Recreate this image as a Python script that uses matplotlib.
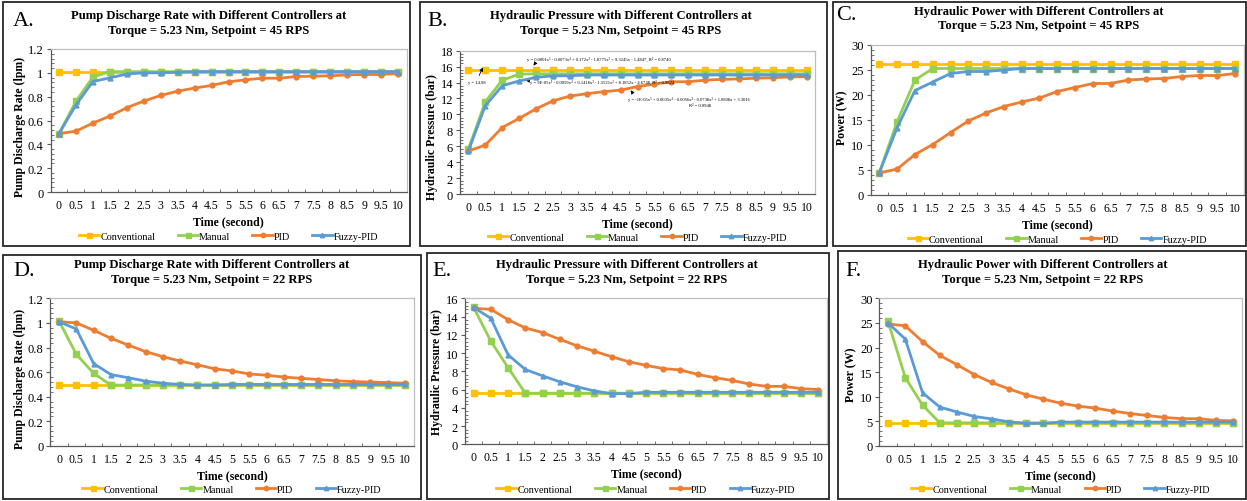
import matplotlib
matplotlib.use('Agg')
import matplotlib.pyplot as plt
from matplotlib.patches import Rectangle
from matplotlib.ticker import AutoMinorLocator, MultipleLocator, FixedLocator
import numpy as np

plt.rcParams['font.family'] = ['Liberation Serif', 'DejaVu Serif']

# time categories (seconds)
time_labels = ['0', '0.5', '1', '1.5', '2', '2.5', '3', '3.5', '4', '4.5', '5',
               '5.5', '6', '6.5', '7', '7.5', '8', '8.5', '9', '9.5', '10']
series_names = ['Conventional', 'Manual', 'PID', 'Fuzzy-PID']

# A. discharge rate, setpoint 45 RPS
a_conv = [1.01] * 21
a_manual = [0.49, 0.76, 0.965, 1.01, 1.01, 1.01, 1.01, 1.01, 1.01, 1.01, 1.01,
            1.01, 1.01, 1.01, 1.01, 1.01, 1.01, 1.01, 1.01, 1.01, 1.01]
a_pid = [0.49, 0.51, 0.578, 0.637, 0.707, 0.763, 0.81, 0.846, 0.872, 0.894, 0.925,
         0.941, 0.955, 0.955, 0.969, 0.972, 0.975, 0.983, 0.986, 0.986, 0.994]
a_fuzzy = [0.49, 0.73, 0.927, 0.958, 0.99, 1.0, 1.0, 1.005, 1.01, 1.01, 1.01,
           1.01, 1.01, 1.01, 1.01, 1.01, 1.01, 1.01, 1.01, 1.01, 1.01]

# B. hydraulic pressure, setpoint 45 RPS
b_conv = [15.6] * 21
b_manual = [5.65, 11.6, 14.3, 15.05, 15.1, 15.1, 15.1, 15.1, 15.1, 15.1, 15.1,
            15.1, 15.1, 15.1, 15.1, 15.1, 15.1, 15.1, 15.1, 15.1, 15.1]
b_pid = [5.4, 6.15, 8.35, 9.5, 10.7, 11.7, 12.3, 12.6, 12.85, 13.05, 13.5,
         13.8, 14.1, 14.1, 14.3, 14.4, 14.45, 14.55, 14.6, 14.7, 14.75]
b_fuzzy = [5.45, 11.1, 13.6, 14.2, 14.65, 14.85, 14.85, 14.95, 14.95, 14.95, 14.95,
           14.95, 14.95, 14.95, 14.95, 14.95, 14.95, 14.95, 14.95, 14.95, 14.95]

# C. hydraulic power, setpoint 45 RPS
c_conv = [26.2] * 21
c_manual = [4.5, 14.7, 23.0, 25.3, 25.3, 25.3, 25.3, 25.3, 25.3, 25.3, 25.3,
            25.3, 25.3, 25.3, 25.3, 25.3, 25.3, 25.3, 25.3, 25.3, 25.3]
c_pid = [4.4, 5.2, 8.1, 10.1, 12.5, 14.8, 16.4, 17.7, 18.6, 19.4, 20.7,
         21.5, 22.3, 22.3, 23.0, 23.2, 23.3, 23.7, 23.9, 23.9, 24.3]
c_fuzzy = [4.5, 13.5, 20.9, 22.6, 24.3, 24.7, 24.7, 25.0, 25.3, 25.3, 25.3,
           25.3, 25.3, 25.3, 25.3, 25.3, 25.3, 25.3, 25.3, 25.3, 25.3]

# D. discharge rate, setpoint 22 RPS
d_conv = [0.495] * 21
d_manual = [1.015, 0.745, 0.59, 0.495, 0.495, 0.495, 0.495, 0.495, 0.495, 0.495, 0.495,
            0.495, 0.495, 0.495, 0.495, 0.495, 0.495, 0.495, 0.495, 0.495, 0.495]
d_pid = [1.01, 1.0, 0.94, 0.875, 0.82, 0.767, 0.726, 0.69, 0.66, 0.627, 0.61,
         0.585, 0.575, 0.56, 0.55, 0.54, 0.53, 0.523, 0.52, 0.515, 0.51]
d_fuzzy = [1.01, 0.95, 0.67, 0.58, 0.555, 0.527, 0.51, 0.5, 0.495, 0.495, 0.5,
           0.5, 0.5, 0.5, 0.5, 0.5, 0.5, 0.5, 0.5, 0.5, 0.5]

# E. hydraulic pressure, setpoint 22 RPS
e_conv = [5.6] * 21
e_manual = [15.0, 11.3, 8.4, 5.6, 5.6, 5.6, 5.6, 5.6, 5.6, 5.6, 5.6,
            5.6, 5.6, 5.6, 5.6, 5.6, 5.6, 5.6, 5.6, 5.6, 5.6]
e_pid = [14.9, 14.8, 13.65, 12.75, 12.25, 11.5, 10.8, 10.2, 9.6, 9.05, 8.65,
         8.3, 8.15, 7.65, 7.3, 7.0, 6.6, 6.35, 6.35, 6.1, 6.0]
e_fuzzy = [15.0, 13.8, 9.8, 8.2, 7.5, 6.85, 6.3, 5.85, 5.55, 5.55, 5.7,
           5.7, 5.7, 5.7, 5.7, 5.7, 5.7, 5.7, 5.7, 5.7, 5.7]

# F. hydraulic power, setpoint 22 RPS
f_conv = [4.7] * 21
f_manual = [25.3, 13.9, 8.3, 4.7, 4.7, 4.7, 4.7, 4.7, 4.7, 4.7, 4.7,
            4.7, 4.7, 4.7, 4.7, 4.7, 4.7, 4.7, 4.7, 4.7, 4.7]
f_pid = [24.8, 24.4, 21.2, 18.4, 16.5, 14.5, 12.9, 11.6, 10.4, 9.5, 8.7,
         8.1, 7.7, 7.1, 6.6, 6.2, 5.8, 5.55, 5.55, 5.2, 5.1]
f_fuzzy = [25.0, 21.7, 10.8, 7.9, 6.9, 6.0, 5.5, 4.9, 4.6, 4.6, 4.85,
           4.85, 4.85, 4.85, 4.85, 4.85, 4.85, 4.85, 4.85, 4.85, 4.85]

colors = ['#FFC000', '#92D050', '#ED7D31', '#5B9BD5']
markers = ['s', 's', 'o', '^']

W, H = 1247, 502
fig = plt.figure(figsize=(W / 100, H / 100), dpi=100)


def px_axes(l, r, t, b):
    return fig.add_axes([l / W, 1 - b / H, (r - l) / W, (b - t) / H])


def ftext(x, y, s, **kw):
    fig.text(x / W, 1 - y / H, s, **kw)


panels = [
    # letter, title1, setpoint, ylabel, data, ymax, ystep, axes px, title px, letter px, ylabel px, legend y, box
    ('A.', 'Pump Discharge Rate with Different Controllers at', '45', 'Pump Discharge Rate (lpm)',
     [a_conv, a_manual, a_pid, a_fuzzy], 1.2, 0.2, (50.5, 406.5, 50, 193), (209, 16.5, 31.5), (13, 22),
     (20, 127), 237, (3, 410, 3, 247)),
    ('B.', 'Hydraulic Pressure with Different Controllers at', '45', 'Hydraulic Pressure (bar)',
     [b_conv, b_manual, b_pid, b_fuzzy], 18, 2, (460, 815, 51.7, 195), (621, 16.5, 31.5), (427, 22),
     (432, 137), 238, (420, 827, 3, 247)),
    ('C.', 'Hydraulic Power with Different Controllers at', '45', 'Power (W)',
     [c_conv, c_manual, c_pid, c_fuzzy], 30, 5, (870.5, 1244, 46, 196), (1039, 11.5, 26.5), (836, 16),
     (842, 118), 240, (833, 1246, 3, 247)),
    ('D.', 'Pump Discharge Rate with Different Controllers at', '22', 'Pump Discharge Rate (lpm)',
     [d_conv, d_manual, d_pid, d_fuzzy], 1.2, 0.2, (50.4, 413.6, 299.3, 447), (212, 265.3, 280.3), (13, 272),
     (20, 379), 490, (3, 421, 256, 500)),
    ('E.', 'Hydraulic Pressure with Different Controllers at', '22', 'Hydraulic Pressure (bar)',
     [e_conv, e_manual, e_pid, e_fuzzy], 16, 2, (465, 827, 299.3, 445.3), (627, 265.3, 280.3), (432, 272),
     (437, 372), 490, (427, 829, 254, 500)),
    ('F.', 'Hydraulic Power with Different Controllers at', '22', 'Power (W)',
     [f_conv, f_manual, f_pid, f_fuzzy], 30, 5, (879.4, 1242, 299.3, 447), (1043, 265.3, 280.3), (845, 272),
     (851, 375), 490, (838, 1246, 252, 500)),
]

x = np.arange(len(time_labels))
axes = []

for (letter, t1, sp, ylab, data, ymax, ystep, apx, tpx, lpx, ypx, legy, box) in panels:
    # panel frame
    bl, br, bt, bb = box
    fig.add_artist(Rectangle((bl / W, 1 - bb / H), (br - bl) / W, (bb - bt) / H,
                             transform=fig.transFigure, fill=False, edgecolor='#262626', linewidth=1.3))
    ax = px_axes(*apx)
    axes.append(ax)
    for k in range(4):
        ax.plot(x, data[k], color=colors[k], marker=markers[k], markersize=4 if k < 2 else 3.5,
                linewidth=2, label=series_names[k], zorder=3 + (k == 3))
    ax.set_xlim(-0.5, len(time_labels) - 0.5)
    ax.set_ylim(0, ymax)
    ax.yaxis.set_major_locator(MultipleLocator(ystep))
    ax.yaxis.set_minor_locator(AutoMinorLocator(5))
    ax.set_yticklabels(['%g' % v for v in ax.get_yticks()])
    ax.set_xticks(x)
    ax.set_xticklabels(time_labels)
    ax.xaxis.set_minor_locator(FixedLocator(np.arange(-0.5, len(time_labels), 0.5)))
    ax.tick_params(axis='x', which='major', length=0, labelsize=8.5, pad=5)
    ax.tick_params(axis='x', which='minor', direction='in', length=2.5, color='#595959')
    ax.tick_params(axis='y', which='major', direction='out', length=3, labelsize=9, pad=2, color='#595959')
    ax.tick_params(axis='y', which='minor', direction='in', length=2, color='#595959')
    for s in ['left', 'bottom']:
        ax.spines[s].set_color('#595959')
        ax.spines[s].set_linewidth(0.9)
    for s in ['top', 'right']:
        ax.spines[s].set_color('#BFBFBF')
        ax.spines[s].set_linewidth(0.9)
    ax.set_xlabel('Time (second)', fontsize=8.5, fontweight='bold', labelpad=3)
    ftext(ypx[0], ypx[1], ylab, rotation=90, ha='center', va='center', fontsize=8.5, fontweight='bold')
    ax.legend(ncol=4, loc='center', frameon=False, fontsize=7.3,
              bbox_to_anchor=(0.5, (apx[3] - legy) / (apx[3] - apx[2])),
              handlelength=2.0, handletextpad=0.1, columnspacing=2.2, markerscale=0.9)
    # titles
    ftext(tpx[0], tpx[1], t1, ha='center', va='center', fontsize=9.1, fontweight='bold')
    ftext(tpx[0], tpx[2], 'Torque = 5.23 Nm, Setpoint = %s RPS' % sp, ha='center', va='center',
          fontsize=9.1, fontweight='bold')
    ftext(lpx[0], lpx[1], letter, ha='left', va='center', fontsize=16)

# trendline equations printed in panel B
eq_kw = dict(fontsize=3.3, va='center', family=['Liberation Serif', 'DejaVu Serif'])
ftext(527, 59, 'y = 0.0001x⁵ - 0.0073x⁴ + 0.172x³ - 1.8775x² + 9.3245x - 1.4847, R² = 0.8740', ha='left', **eq_kw)
ftext(468, 83, 'y = 14.98', ha='left', **eq_kw)
ftext(530, 82, 'y = 9E-05x⁵ - 0.0059x⁴ + 0.1418x³ - 1.5521x² + 8.1852x - 4.6748, R² = 0.9824', ha='left', **eq_kw)
ftext(628, 99, 'y = -1E-05x⁵ + 0.0005x⁴ - 0.0056x³ - 0.0738x² + 1.8808x + 3.3016', ha='left', **eq_kw)
ftext(700, 106, 'R² = 0.9948', ha='center', **eq_kw)
arrows = [((536, 63), (532, 69)), ((478, 79), (484, 66)), ((531, 82), (523, 81)), ((634, 96), (629, 89))]
for (x0, y0), (x1, y1) in arrows:
    axes[1].annotate('', xy=(x1 / W, 1 - y1 / H), xytext=(x0 / W, 1 - y0 / H),
                     xycoords='figure fraction', textcoords='figure fraction',
                     arrowprops=dict(arrowstyle='-|>', color='black', lw=0.6, mutation_scale=5))

fig.savefig('out.png', dpi=100)
